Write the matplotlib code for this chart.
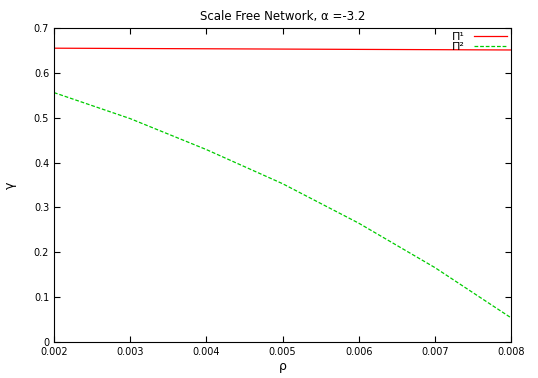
import numpy as np
import matplotlib.pyplot as plt

# data
rho = [0.002, 0.003, 0.004, 0.005, 0.006, 0.007, 0.008]
pi1 = [0.655, 0.6543, 0.6537, 0.653, 0.6523, 0.6517, 0.651]
pi2 = [0.556, 0.498, 0.429, 0.353, 0.265, 0.166, 0.054]

xticks = [0.002, 0.003, 0.004, 0.005, 0.006, 0.007, 0.008]
yticks = [0, 0.1, 0.2, 0.3, 0.4, 0.5, 0.6, 0.7]

fig = plt.figure(figsize=(5.38, 3.78), dpi=100)
ax = fig.add_axes([54 / 538, 36 / 378, 457 / 538, 314 / 378])

ax.plot(rho, pi1, color='red', lw=0.9, label='Π¹')
ax.plot(rho, pi2, color='#00cc00', lw=0.9, ls=(0, (3, 1.5)), label='Π²')

ax.set_xlim(0.002, 0.008)
ax.set_ylim(0, 0.7)
ax.set_xticks(xticks)
ax.set_xticklabels([f"{t:g}" for t in xticks])
ax.set_yticks(yticks)
ax.set_yticklabels([f"{t:g}" for t in yticks])
ax.tick_params(direction='in', top=True, right=True, labelsize=7, length=4)

ax.set_xlabel('ρ', fontsize=9, labelpad=2)
ax.set_ylabel('γ', fontsize=9, labelpad=12)
ax.set_title('Scale Free Network, α =-3.2', fontsize=8.5, pad=6)

ax.legend(loc='upper right', frameon=False, markerfirst=False, fontsize=8,
          handlelength=3, labelspacing=0.0, borderaxespad=0.05, handletextpad=0.8,
          borderpad=0.3)

fig.savefig('out.png', dpi=100)
